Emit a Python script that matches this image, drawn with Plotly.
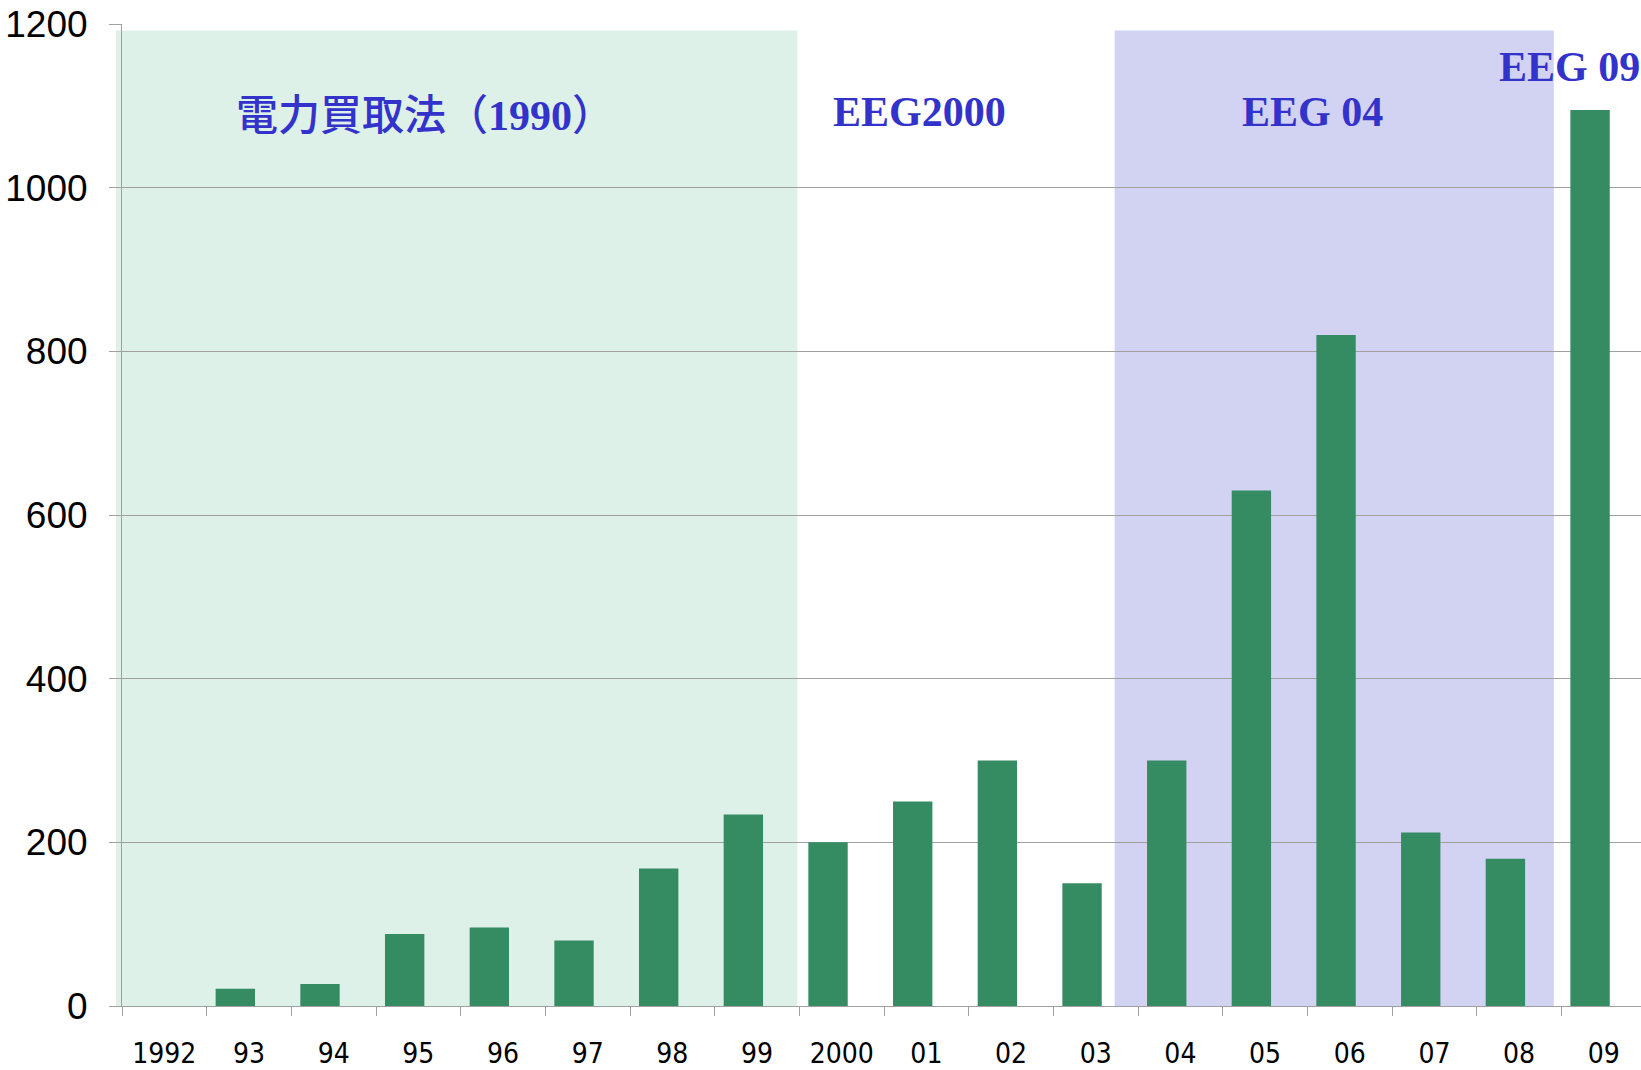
import plotly.graph_objects as go

years = ["1992", "93", "94", "95", "96", "97", "98", "99", "2000", "01", "02", "03",
         "04", "05", "06", "07", "08", "09"]
values = [0, 21, 27, 88, 96, 80, 168, 234, 200, 250, 300, 150, 300, 630, 820, 212, 180, 1095]

# visible category range (the last category is slightly cut at the right edge)
x_range = [-0.5, 17.44]

# policy periods (category spans, with small offsets as in the reference)
periods = [
    {"start": "1992", "end": "99", "pad0": -0.07, "pad1": -0.024, "color": "rgb(221,241,232)"},
    {"start": "04", "end": "08", "pad0": -0.276, "pad1": -0.09, "color": "rgb(210,210,242)"},
]
cjk = "font-family:\"Noto Sans CJK JP\";font-weight:500"
labels = [
    {"text": f"<span style='{cjk}'>電力買取法（</span><b>1990</b><span style='{cjk}'>）</span>",
     "x": 3.08, "y": 1093},
    {"text": "<b>EEG2000</b>", "x": 8.92, "y": 1093},
    {"text": "<b>EEG 04</b>", "x": 13.56, "y": 1093},
    {"text": "<b>EEG 09</b>", "x": 16.59, "y": 1148},
]

span = x_range[1] - x_range[0]
fig = go.Figure()
fig.add_trace(go.Bar(x=years, y=values, width=0.465, offset=-0.394,
                     marker=dict(color="rgb(53,140,98)", line=dict(width=0))))

for p in periods:
    i0 = years.index(p["start"]) - 0.5 + p["pad0"]
    i1 = years.index(p["end"]) + 0.5 + p["pad1"]
    fig.add_shape(type="rect", xref="paper", yref="y",
                  x0=(i0 - x_range[0]) / span, x1=(i1 - x_range[0]) / span, y0=-5, y1=1192,
                  fillcolor=p["color"], line=dict(width=0), layer="below")

for a in labels:
    fig.add_annotation(x=a["x"], y=a["y"], xref="x", yref="y", text=a["text"], showarrow=False,
                       font=dict(family="Liberation Serif, Times New Roman, serif", size=42,
                                 color="rgb(51,51,204)"),
                       xanchor="center", yanchor="middle")

grid = "rgb(160,160,160)"
fig.update_layout(
    width=1641, height=1070,
    margin=dict(l=122, r=0, t=24, b=61),
    plot_bgcolor="white", paper_bgcolor="white",
    showlegend=False,
    xaxis=dict(type="category", range=x_range, showline=True, linecolor=grid, linewidth=1,
               ticks="outside", tickson="boundaries", ticklen=9, tickcolor=grid,
               showgrid=False, ticklabelstandoff=22,
               tickfont=dict(family="Liberation Sans Narrow, DejaVu Sans Condensed, Roboto Condensed, Liberation Sans",
                             size=28, color="black")),
    yaxis=dict(range=[0, 1200], tickvals=[0, 200, 400, 600, 800, 1000, 1200],
               showline=True, linecolor=grid, linewidth=1,
               ticks="outside", ticklen=12, tickcolor=grid,
               showgrid=True, gridcolor=grid, gridwidth=1, zeroline=False,
               ticklabelstandoff=14, ticklabeloverflow="allow",
               tickfont=dict(family="Liberation Sans, Arial, sans-serif", size=37, color="black")),
)

fig.write_html("out.html", config={"displayModeBar": False},
               post_script="document.body.style.margin='0';document.body.style.overflow='hidden';")
